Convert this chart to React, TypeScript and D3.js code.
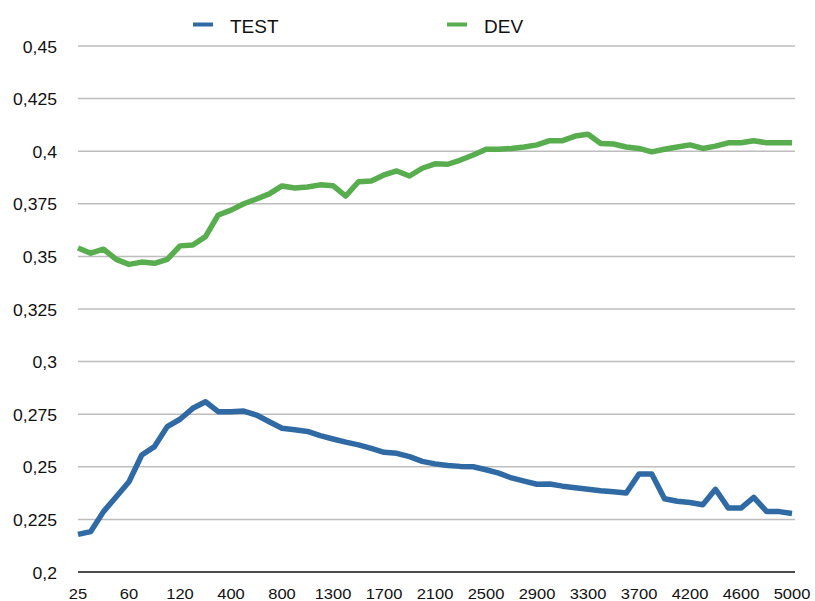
import { useEffect, useRef } from 'react';
import * as d3 from 'd3';

const categories = [
  '25', '30', '40', '50', '60', '70', '80', '100', '120', '150', '200', '300', '400', '500', '600', '700',
  '800', '900', '1000', '1100', '1300', '1400', '1500', '1600', '1700', '1800', '1900', '2000', '2100',
  '2200', '2300', '2400', '2500', '2600', '2700', '2800', '2900', '3000', '3100', '3200', '3300', '3400',
  '3500', '3600', '3700', '3800', '3900', '4000', '4200', '4300', '4400', '4500', '4600', '4700', '4800',
  '4900', '5000'
];

const testValues = [
  0.2179, 0.2192, 0.2287, 0.2358, 0.2429, 0.2556, 0.2596, 0.2691, 0.2726, 0.2778, 0.2809, 0.2762,
  0.2762, 0.2765, 0.2746, 0.2714, 0.2683, 0.2676, 0.2668, 0.2648, 0.2632, 0.2617, 0.2604, 0.2588,
  0.2569, 0.2564, 0.2548, 0.2526, 0.2514, 0.2506, 0.2502, 0.25, 0.2486, 0.247, 0.2447, 0.2432,
  0.2417, 0.2418, 0.2408, 0.24, 0.2393, 0.2386, 0.2381, 0.2375, 0.2466, 0.2466, 0.2348, 0.2336,
  0.233, 0.232, 0.2393, 0.2304, 0.2304, 0.2355, 0.2288, 0.2287, 0.2278
];

const devValues = [
  0.354, 0.3515, 0.3534, 0.3486, 0.3462, 0.3473, 0.3467, 0.3486, 0.355, 0.3554, 0.3594, 0.3697,
  0.372, 0.375, 0.3773, 0.3797, 0.3835, 0.3825, 0.383, 0.384, 0.3836, 0.3787, 0.3855, 0.3858,
  0.3887, 0.3906, 0.3882, 0.3919, 0.394, 0.3938, 0.3958, 0.3982, 0.4009, 0.4009, 0.4013, 0.402,
  0.403, 0.405, 0.405, 0.4072, 0.4081, 0.4037, 0.4034, 0.402, 0.4013, 0.3997, 0.4009, 0.402,
  0.403, 0.4013, 0.4024, 0.404, 0.404, 0.405, 0.404, 0.404, 0.404
];

const yTicks = [0.2, 0.225, 0.25, 0.275, 0.3, 0.325, 0.35, 0.375, 0.4, 0.425, 0.45];

const series = [
  { name: 'TEST', values: testValues, color: '#2f6aa5' },
  { name: 'DEV', values: devValues, color: '#58ad4f' }
];

export default function App() {
  const svgRef = useRef(null);

  useEffect(() => {
    if (!svgRef.current) return;
    const svg = d3.select(svgRef.current);
    svg.selectAll('*').remove();

    const font = '"Liberation Sans", Arial, sans-serif';
    const left = 78, right = 795, top = 46, bottom = 572;

    const x = d3.scalePoint().domain(categories).range([left, 792]);
    const y = d3.scaleLinear().domain([0.2, 0.45]).range([bottom, top]);

    // gridlines
    svg.append('g')
      .selectAll('line')
      .data(yTicks.filter(t => t > 0.2))
      .enter()
      .append('line')
      .attr('x1', left)
      .attr('x2', right)
      .attr('y1', d => y(d))
      .attr('y2', d => y(d))
      .style('stroke', '#bdbdbd')
      .style('stroke-width', 1.5);

    // y labels (the original text is slightly stretched horizontally)
    svg.append('g')
      .selectAll('text')
      .data(yTicks)
      .enter()
      .append('text')
      .attr('transform', d => `translate(57,${y(d) + 1}) scale(1.1,1)`)
      .attr('dy', '0.35em')
      .attr('text-anchor', 'end')
      .style('font-family', font)
      .style('font-size', '16px')
      .style('fill', '#111')
      .text(d => String(d).replace('.', ','));

    // x labels, every 4th category
    svg.append('g')
      .selectAll('text')
      .data(categories.filter((c, i) => i % 4 === 0))
      .enter()
      .append('text')
      .attr('transform', d => `translate(${x(d)},599) scale(1.1,1)`)
      .attr('text-anchor', 'middle')
      .style('font-family', font)
      .style('font-size', '15px')
      .style('fill', '#111')
      .text(d => d);

    const line = d3.line()
      .x((d, i) => x(categories[i]))
      .y(d => y(d));

    series.forEach(s => {
      svg.append('path')
        .datum(s.values)
        .attr('d', line)
        .style('fill', 'none')
        .style('stroke', s.color)
        .style('stroke-width', 5.5)
        .style('stroke-linejoin', 'round');
    });

    // bottom axis line
    svg.append('line')
      .attr('x1', left)
      .attr('x2', right)
      .attr('y1', bottom)
      .attr('y2', bottom)
      .style('stroke', '#111')
      .style('stroke-width', 1.5);

    // legend
    const legendX = [193, 447];
    series.forEach((s, i) => {
      svg.append('line')
        .attr('x1', legendX[i])
        .attr('x2', legendX[i] + 20)
        .attr('y1', 24.5)
        .attr('y2', 24.5)
        .style('stroke', s.color)
        .style('stroke-width', 4);
      svg.append('text')
        .attr('x', legendX[i] + 37)
        .attr('y', 33)
        .style('font-family', font)
        .style('font-size', '19px')
        .style('fill', '#111')
        .text(s.name);
    });
  }, []);

  return (
    <svg
      ref={svgRef}
      width={815}
      height={601}
      style={{ position: 'absolute', left: 0, top: 0, background: '#fff' }}
    />
  );
}
